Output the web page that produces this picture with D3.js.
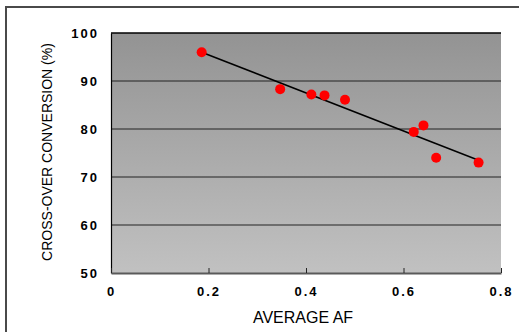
<!DOCTYPE html>
<html>
<head>
<meta charset="utf-8">
<script src="https://cdn.jsdelivr.net/npm/d3@7"></script>
<style>
  body { margin: 0; background: #fff; }
  svg text { font-family: "Liberation Sans", Arial, sans-serif; }
</style>
</head>
<body>
<div id="graph"></div>
<script>
// data
let afValues = [0.186, 0.347, 0.411, 0.438, 0.480, 0.621, 0.641, 0.667, 0.754];
let conversion = [96.0, 88.3, 87.2, 87.0, 86.1, 79.4, 80.75, 74.0, 73.0];
// trend line end points
let trendX = [0.186, 0.754];
let trendY = [96.0, 73.5];
let xTicks = [0, 0.2, 0.4, 0.6, 0.8];
let yTicks = [50, 60, 70, 80, 90, 100];

let svg = d3.select("#graph").append("svg")
  .attr("width", 519)
  .attr("height", 332);

// outer frame
svg.append("rect")
  .attr("x", 6).attr("y", 7)
  .attr("width", 530).attr("height", 340)
  .attr("fill", "none")
  .attr("stroke", "#4a4a4a")
  .attr("stroke-width", 2);

let xScale = d3.scaleLinear().domain([0, 0.8]).range([111, 501]);
let yScale = d3.scaleLinear().domain([50, 100]).range([273, 33]);

// plot background
let grad = svg.append("defs").append("linearGradient")
  .attr("id", "bg").attr("x1", 0).attr("y1", 0).attr("x2", 0).attr("y2", 1);
grad.append("stop").attr("offset", "0%").attr("stop-color", "#939393");
grad.append("stop").attr("offset", "100%").attr("stop-color", "#c1c1c1");

svg.append("rect")
  .attr("x", xScale(0)).attr("y", yScale(100))
  .attr("width", xScale(0.8) - xScale(0))
  .attr("height", yScale(50) - yScale(100))
  .attr("fill", "url(#bg)");

// gridlines
svg.selectAll(".grid")
  .data(yTicks.filter(v => v > 50))
  .enter().append("line")
  .attr("x1", xScale(0)).attr("x2", xScale(0.8))
  .attr("y1", d => yScale(d)).attr("y2", d => yScale(d))
  .attr("stroke", d => d == 100 ? "#000" : "#222")
  .attr("stroke-width", d => d == 100 ? 1.5 : 1);

// y axis
let yAxis = d3.axisLeft(yScale).tickValues(yTicks).tickSize(0).tickPadding(12);
let yg = svg.append("g")
  .attr("transform", "translate(" + xScale(0) + ",0)")
  .call(yAxis);
yg.select(".domain").attr("stroke", "#000").attr("stroke-width", 1.2);
yg.selectAll("text")
  .attr("font-size", 13).attr("font-weight", "bold")
  .attr("letter-spacing", "2px").attr("fill", "#000")
  .attr("font-family", "Liberation Sans, Arial, sans-serif");

// x axis, ticks point up
let xAxis = d3.axisBottom(xScale).tickValues(xTicks).tickSizeInner(-5).tickSizeOuter(0)
  .tickPadding(14).tickFormat(d => d == 0 ? "0" : d3.format(".1f")(d));
let xg = svg.append("g")
  .attr("transform", "translate(0," + yScale(50) + ")")
  .call(xAxis);
xg.select(".domain").attr("stroke", "#5a5a5a").attr("stroke-width", 2);
xg.selectAll(".tick line").attr("stroke", "#222");
xg.selectAll("text")
  .attr("font-size", 13).attr("font-weight", "bold")
  .attr("letter-spacing", "2px").attr("fill", "#000")
  .attr("font-family", "Liberation Sans, Arial, sans-serif");

// trend line
svg.append("path")
  .datum(d3.zip(trendX, trendY))
  .attr("d", d3.line().x(d => xScale(d[0])).y(d => yScale(d[1])))
  .attr("stroke", "#000").attr("stroke-width", 1.5).attr("fill", "none");

// points
svg.selectAll(".pt")
  .data(d3.zip(afValues, conversion))
  .enter().append("circle")
  .attr("cx", d => xScale(d[0]))
  .attr("cy", d => yScale(d[1]))
  .attr("r", 5)
  .attr("fill", "#ff0000");

// titles
svg.append("text")
  .attr("x", 303).attr("y", 323)
  .attr("text-anchor", "middle")
  .attr("font-size", 16)
  .text("AVERAGE AF");

svg.append("text")
  .attr("transform", "translate(52,152) rotate(-90)")
  .attr("text-anchor", "middle")
  .attr("font-size", 14)
  .text("CROSS-OVER CONVERSION (%)");
</script>
</body>
</html>
